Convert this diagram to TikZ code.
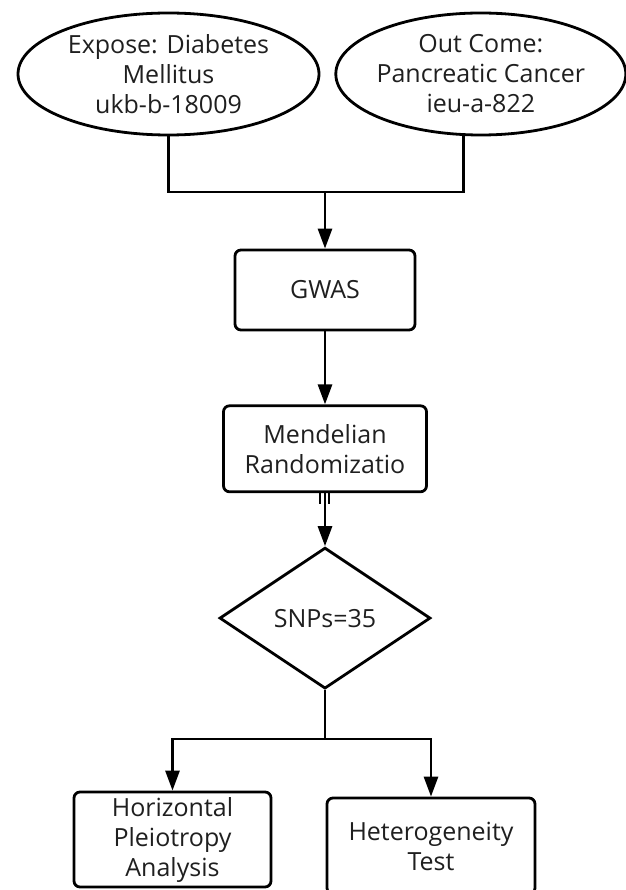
\documentclass[tikz,border=0pt]{standalone}
\usepackage{fontspec}
\setmainfont{Open Sans}
\usetikzlibrary{shapes.geometric, arrows.meta, positioning}
\tikzstyle{source} = [ellipse, draw, line width=2.8pt, align=center, inner xsep=-6pt, inner ysep=-4pt, minimum height=122pt]
\tikzstyle{block} = [rectangle, draw, line width=2.8pt, rounded corners=6pt, align=center]
\tikzstyle{decision} = [diamond, draw, line width=2.8pt, minimum width=211pt, minimum height=141pt, inner sep=0pt]
\tikzstyle{link} = [line width=2.8pt, black]
\tikzstyle{flow} = [line width=2.8pt, -{Triangle[length=20pt,width=14pt]}, black]
\tikzstyle{tick} = [line width=1.3pt, black]

\begin{document}
\begin{tikzpicture}[x=1pt, y=-1pt, font=\fontsize{25}{30}\selectfont, text=black!88]

	\useasboundingbox (0,0) rectangle (625,890);

	% Data sources
	\node (expose) [source, minimum width=301pt] at (168.5,74) {Expose: Diabetes\\Mellitus\\ukb-b-18009};
	\node (outcome) [source, minimum width=290pt, right=14pt of expose] {Out Come:\\Pancreatic Cancer\\ieu-a-822};

	% Main steps
	\node (gwas) [block, minimum width=180pt, minimum height=80pt] at (325,290) {GWAS};
	\node (mr) [block, minimum width=203pt, minimum height=86pt, below=73pt of gwas] {Mendelian\\Randomizatio};
	\node (snp) [decision, below=53pt of mr] {SNPs=35};

	% Sensitivity checks
	\node (hpa) [block, minimum width=197pt, minimum height=95pt] at (172.5,839.5) {Horizontal\\Pleiotropy\\Analysis};
	\node (het) [block, minimum width=208pt, minimum height=96pt] at (431,846) {Heterogeneity\\Test};

	% Junctions
	\coordinate (join) at (325,192);
	\coordinate (split) at (325,739);

	% Arrows
	\draw[link] (expose.south) |- (join) -| ([xshift=-17pt]outcome.south);
	\draw[flow] (join) -- (gwas);
	\draw[flow] (gwas) -- (mr);
	\draw[flow] (mr) -- (snp);
	\draw[tick] ([xshift=-5pt]mr.south) -- ++(0,11);
	\draw[tick] ([xshift=4pt]mr.south) -- ++(0,11);
	\draw[link] (snp.south) -- (split);
	\draw[flow] (split) -| (hpa.north);
	\draw[flow] (split) -| (het.north);

\end{tikzpicture}
\end{document}
